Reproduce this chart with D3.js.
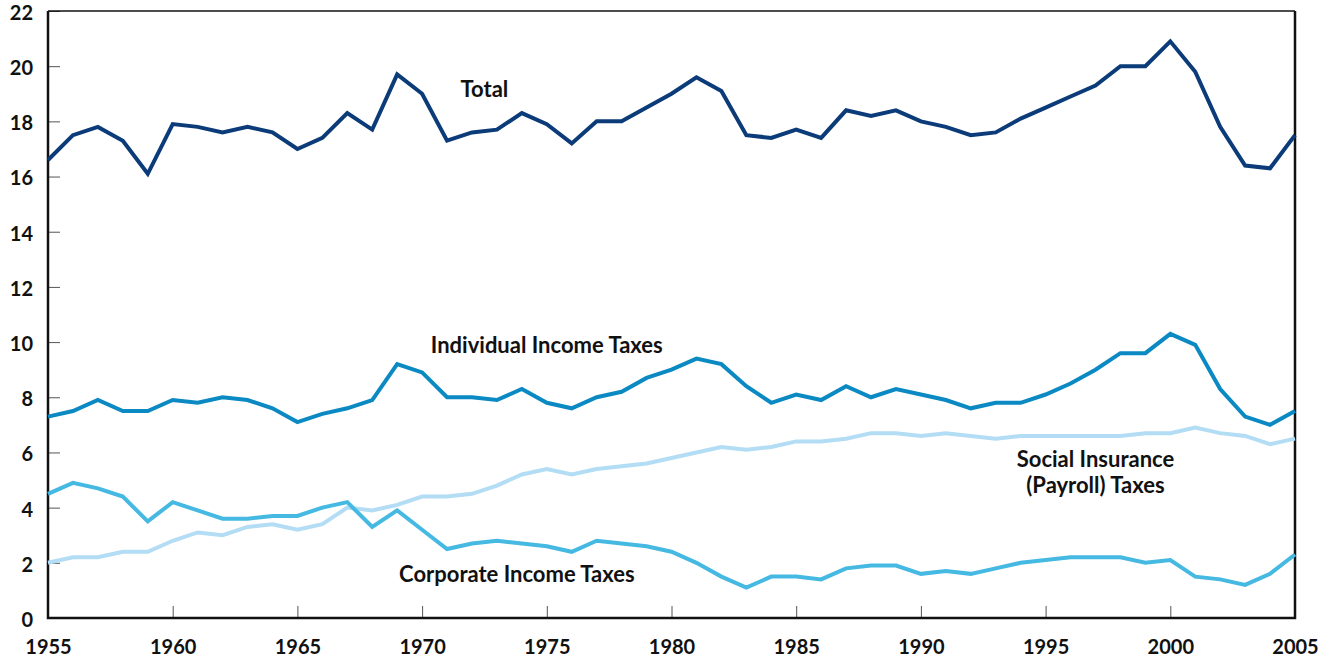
<!DOCTYPE html>
<html>
<head>
<meta charset="utf-8">
<script src="https://cdn.jsdelivr.net/npm/d3@7"></script>
<style>
    body { margin: 0; background: #fff; }
    svg { display: block; }
    text { font-family: Lato, "Open Sans", sans-serif; font-weight: bold; fill: #111; }
</style>
</head>
<body>
<div id="chart"></div>
<script>
const WIDTH = 1330;
const HEIGHT = 659;
const margin = { top: 11, right: 35, bottom: 41, left: 48 };

// revenues as a percentage of GDP, 1955-2005
const years = d3.range(1955, 2006);

const total = [16.6, 17.5, 17.8, 17.3, 16.1, 17.9, 17.8, 17.6, 17.8, 17.6,
    17.0, 17.4, 18.3, 17.7, 19.7, 19.0, 17.3, 17.6, 17.7, 18.3,
    17.9, 17.2, 18.0, 18.0, 18.5, 19.0, 19.6, 19.1, 17.5, 17.4,
    17.7, 17.4, 18.4, 18.2, 18.4, 18.0, 17.8, 17.5, 17.6, 18.1,
    18.5, 18.9, 19.3, 20.0, 20.0, 20.9, 19.8, 17.8, 16.4, 16.3, 17.5];

const individual = [7.3, 7.5, 7.9, 7.5, 7.5, 7.9, 7.8, 8.0, 7.9, 7.6,
    7.1, 7.4, 7.6, 7.9, 9.2, 8.9, 8.0, 8.0, 7.9, 8.3,
    7.8, 7.6, 8.0, 8.2, 8.7, 9.0, 9.4, 9.2, 8.4, 7.8,
    8.1, 7.9, 8.4, 8.0, 8.3, 8.1, 7.9, 7.6, 7.8, 7.8,
    8.1, 8.5, 9.0, 9.6, 9.6, 10.3, 9.9, 8.3, 7.3, 7.0, 7.5];

const social = [2.0, 2.2, 2.2, 2.4, 2.4, 2.8, 3.1, 3.0, 3.3, 3.4,
    3.2, 3.4, 4.0, 3.9, 4.1, 4.4, 4.4, 4.5, 4.8, 5.2,
    5.4, 5.2, 5.4, 5.5, 5.6, 5.8, 6.0, 6.2, 6.1, 6.2,
    6.4, 6.4, 6.5, 6.7, 6.7, 6.6, 6.7, 6.6, 6.5, 6.6,
    6.6, 6.6, 6.6, 6.6, 6.7, 6.7, 6.9, 6.7, 6.6, 6.3, 6.5];

const corporate = [4.5, 4.9, 4.7, 4.4, 3.5, 4.2, 3.9, 3.6, 3.6, 3.7,
    3.7, 4.0, 4.2, 3.3, 3.9, 3.2, 2.5, 2.7, 2.8, 2.7,
    2.6, 2.4, 2.8, 2.7, 2.6, 2.4, 2.0, 1.5, 1.1, 1.5,
    1.5, 1.4, 1.8, 1.9, 1.9, 1.6, 1.7, 1.6, 1.8, 2.0,
    2.1, 2.2, 2.2, 2.2, 2.0, 2.1, 1.5, 1.4, 1.2, 1.6, 2.3];

const xTicks = [1955, 1960, 1965, 1970, 1975, 1980, 1985, 1990, 1995, 2000, 2005];
const yTicks = [0, 2, 4, 6, 8, 10, 12, 14, 16, 18, 20, 22];

const series = [
    { name: "social", values: social, color: "#b3ddf4" },
    { name: "corporate", values: corporate, color: "#45b9e2" },
    { name: "individual", values: individual, color: "#0a89c2" },
    { name: "total", values: total, color: "#0b3b78" }
];

const width = WIDTH - margin.left - margin.right;
const height = HEIGHT - margin.top - margin.bottom;

const svg = d3.select("#chart").append("svg")
    .attr("width", WIDTH)
    .attr("height", HEIGHT);

const g = svg.append("g")
    .attr("transform", "translate(" + margin.left + "," + margin.top + ")");

const x = d3.scaleLinear().domain([1955, 2005]).range([0, width]);
const y = d3.scaleLinear().domain([0, 22]).range([height, 0]);

// x axis, ticks pointing up into the plot
const xAxis = g.append("g")
    .attr("transform", "translate(0," + height + ")")
    .call(d3.axisTop(x).tickValues(xTicks).tickSize(12).tickFormat(d3.format("d")));
xAxis.select(".domain").remove();
xAxis.selectAll("line").attr("stroke", "#555").attr("stroke-width", 1);
xAxis.selectAll("text")
    .attr("y", 36)
    .attr("dy", 0)
    .style("font-size", "20px");

// y axis, ticks pointing right into the plot
const yAxis = g.append("g")
    .call(d3.axisRight(y).tickValues(yTicks).tickSize(12));
yAxis.select(".domain").remove();
yAxis.selectAll("line").attr("stroke", "#555").attr("stroke-width", 1);
yAxis.selectAll("text")
    .attr("x", -15)
    .attr("dy", "0.42em")
    .attr("text-anchor", "end")
    .style("font-size", "20px");

// frame
g.append("path")
    .attr("fill", "none")
    .attr("stroke", "#111")
    .attr("stroke-width", 1.5)
    .attr("d", "M0,0H" + width);
g.append("path")
    .attr("fill", "none")
    .attr("stroke", "#111")
    .attr("stroke-width", 2.5)
    .attr("d", "M0,0V" + height + "H" + width + "V0");

const line = d3.line()
    .x((d, i) => x(years[i]))
    .y(d => y(d));

g.selectAll(".series")
    .data(series)
    .enter()
    .append("path")
    .attr("class", "series")
    .attr("fill", "none")
    .attr("stroke", d => d.color)
    .attr("stroke-width", 4)
    .attr("stroke-linejoin", "miter")
    .attr("d", d => line(d.values));

// labels
const labels = [
    { lines: ["Total"], year: 1972.5, value: 18.9 },
    { lines: ["Individual Income Taxes"], year: 1975.0, value: 9.6 },
    { lines: ["Corporate Income Taxes"], year: 1973.8, value: 1.3 },
    { lines: ["Social Insurance", "(Payroll) Taxes"], year: 1997.0, value: 5.47 }
];

labels.forEach(l => {
    const t = g.append("text")
        .attr("text-anchor", "middle")
        .attr("y", y(l.value))
        .style("font-size", "22px");
    l.lines.forEach((s, i) => {
        t.append("tspan")
            .attr("x", x(l.year))
            .attr("dy", i === 0 ? 0 : 26)
            .text(s);
    });
});
</script>
</body>
</html>
